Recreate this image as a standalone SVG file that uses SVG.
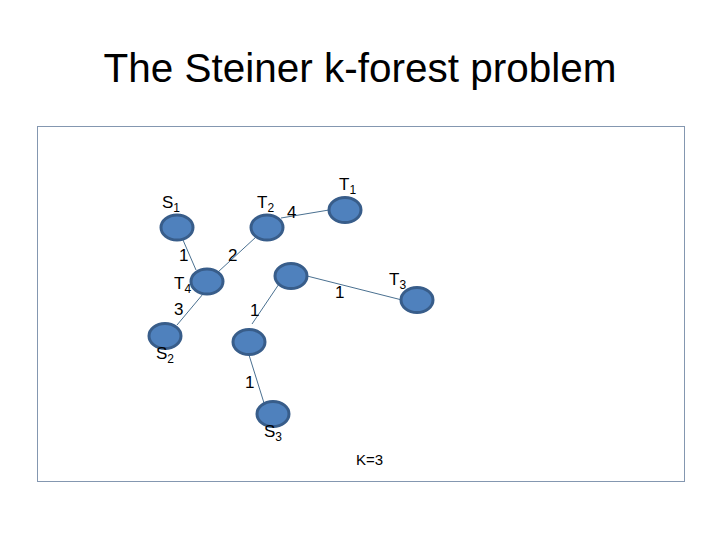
<svg xmlns="http://www.w3.org/2000/svg" width="720" height="540" viewBox="0 0 720 540">
<style>
.node{fill:#4f81bd;stroke:#385d8a;stroke-width:3}
.edge{stroke:#4a7090;stroke-width:1;fill:none}
.lbl{font-family:"Liberation Sans","Open Sans",sans-serif;font-size:17px;fill:#000}
.num{font-family:"Liberation Sans","Open Sans",sans-serif;font-size:17px;fill:#000}
.sub{font-size:12px}
.k{font-size:15px}
</style>
<rect width="720" height="540" fill="#fff"/>
<text x="360" y="82" text-anchor="middle" font-family="Liberation Sans, Open Sans, sans-serif" font-size="40" textLength="513" lengthAdjust="spacingAndGlyphs" fill="#000">The Steiner k-forest problem</text>
<rect x="37.5" y="126.5" width="647" height="355" fill="none" stroke="#8497b0" stroke-width="1"/>
<g id="connectors">
<line class="edge" x1="183" y1="240" x2="196" y2="270"/>
<line class="edge" x1="256" y1="237" x2="218" y2="272"/>
<line class="edge" x1="281" y1="218" x2="329" y2="210"/>
<line class="edge" x1="203" y1="294" x2="177" y2="325"/>
<line class="edge" x1="307" y1="276" x2="402" y2="300"/>
<line class="edge" x1="279" y1="284" x2="252" y2="324"/>
<line class="edge" x1="249" y1="355" x2="264" y2="403"/>
</g>
<g id="S1"><ellipse class="node" cx="177" cy="227.5" rx="16" ry="12.5"/><text class="lbl" x="162" y="208">S<tspan class="sub" dy="4">1</tspan></text></g>
<g id="T2"><ellipse class="node" cx="267" cy="227.5" rx="16" ry="12.5"/><text class="lbl" x="257" y="208">T<tspan class="sub" dy="4">2</tspan></text></g>
<g id="T1"><ellipse class="node" cx="345" cy="210" rx="16" ry="12.5"/><text class="lbl" x="339" y="190">T<tspan class="sub" dy="4">1</tspan></text></g>
<g id="T4"><ellipse class="node" cx="207" cy="281.5" rx="16" ry="12.5"/><text class="lbl" x="174" y="289">T<tspan class="sub" dy="4">4</tspan></text></g>
<g id="N1"><ellipse class="node" cx="291" cy="276" rx="16" ry="12.5"/></g>
<g id="T3"><ellipse class="node" cx="417" cy="300" rx="16" ry="12.5"/><text class="lbl" x="389" y="285">T<tspan class="sub" dy="4">3</tspan></text></g>
<g id="S2"><ellipse class="node" cx="165" cy="336" rx="16" ry="12.5"/><text class="lbl" x="156" y="359">S<tspan class="sub" dy="4">2</tspan></text></g>
<g id="N2"><ellipse class="node" cx="249" cy="342" rx="16" ry="12.5"/></g>
<g id="S3"><ellipse class="node" cx="273" cy="414" rx="16" ry="12.5"/><text class="lbl" x="264" y="437">S<tspan class="sub" dy="4">3</tspan></text></g>
<g id="labels">
<text class="num" x="287" y="218">4</text>
<text class="num" x="179" y="261">1</text>
<text class="num" x="228" y="261">2</text>
<text class="num" x="174" y="315">3</text>
<text class="num" x="250" y="316">1</text>
<text class="num" x="335" y="298">1</text>
<text class="num" x="245" y="388">1</text>
<text class="lbl k" x="356" y="465">K=3</text>
</g>
</svg>
